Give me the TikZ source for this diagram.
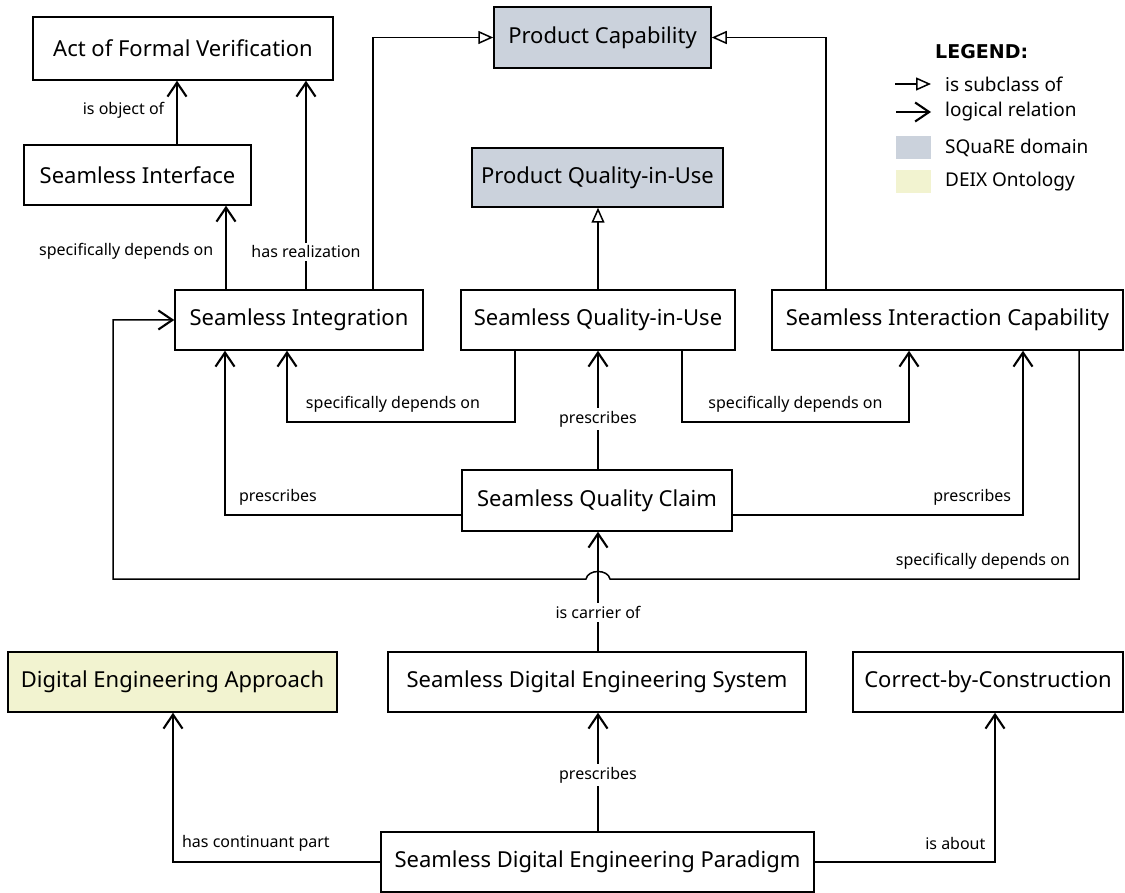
\documentclass[tikz,border=0pt]{standalone}
\usepackage{fontspec}
\setmainfont{Noto Sans}
\newfontfamily\legfont{DejaVu Sans}
\usetikzlibrary{arrows.meta}
\definecolor{squaregray}{RGB}{203,210,220}
\definecolor{deixyellow}{RGB}{242,243,208}
\newcommand\mkbox[7]{\node[box,fill=#7,minimum width={(#3-#2)*1pt},minimum height={(#5-#4)*1pt}] (#1) at ({(#2+#3)/2},{(#4+#5)/2}) {#6};}
\begin{document}
\begin{tikzpicture}[x=1pt,y=-1pt,
  box/.style={draw,line width=1.5pt,inner sep=0pt,font=\fontsize{22}{26}\selectfont},
  rel/.style={line width=1.5pt,-{Straight Barb[length=14pt,width=19pt,line width=2.1pt]}},
  sub/.style={line width=1.5pt,-{Triangle[open,length=15pt,width=13pt,line width=1.5pt,fill=white]}},
  lab/.style={font=\fontsize{16}{19}\selectfont,inner sep=2pt},
  labw/.style={lab,fill=white,inner sep=3pt},
  legtext/.style={font=\fontsize{19}{22}\selectfont,anchor=west,inner sep=0pt}]
\useasboundingbox (0,0) rectangle (1125,893);
% boxes
\mkbox{afv}{33}{333}{17}{80}{Act of Formal Verification}{white}
\mkbox{pc}{494}{711}{7}{68}{Product Capability}{squaregray}
\mkbox{si}{24}{251}{145}{205}{Seamless Interface}{white}
\mkbox{pqu}{472}{723}{148}{207}{Product Quality-in-Use}{squaregray}
\mkbox{sint}{175}{423}{290}{350}{Seamless Integration}{white}
\mkbox{squ}{461}{735}{290}{350}{Seamless Quality-in-Use}{white}
\mkbox{sic}{772}{1123}{290}{350}{Seamless Interaction Capability}{white}
\mkbox{sqc}{462}{732}{470}{531}{Seamless Quality Claim}{white}
\mkbox{dea}{8}{337}{652}{712}{Digital Engineering Approach}{deixyellow}
\mkbox{sdes}{388}{806}{652}{712}{Seamless Digital Engineering System}{white}
\mkbox{cbc}{853}{1123}{652}{712}{Correct-by-Construction}{white}
\mkbox{sdep}{381}{814}{832}{892}{Seamless Digital Engineering Paradigm}{white}
% helper coordinates
\coordinate (c177) at (177,0);
\coordinate (c226) at (226,0);
\coordinate (c306) at (306,0);
\coordinate (c373) at (373,0);
\coordinate (c826) at (826,0);
\coordinate (c598) at (598,0);
\coordinate (c515) at (515,0);
\coordinate (c287) at (287,0);
\coordinate (c682) at (682,0);
\coordinate (c909) at (909,0);
\coordinate (c225) at (225,0);
\coordinate (c1023) at (1023,0);
\coordinate (c1079) at (1079,0);
\coordinate (c610) at (610,0);
\coordinate (c113) at (113,0);
\coordinate (c173) at (173,0);
\coordinate (c995) at (995,0);
\coordinate (y422) at (0,422);
\coordinate (y515) at (0,515);
\coordinate (y579) at (0,579);
% connectors
\draw[rel] (si.north -| c177) -- (afv.south -| c177)
  node[lab,pos=0.54,anchor=east,xshift=-10pt] {is object of};
\draw[rel] (sint.north -| c226) -- (si.south -| c226)
  node[lab,pos=0.45,anchor=east,xshift=-10pt] {specifically depends on};
\draw[rel] (sint.north -| c306) -- (afv.south -| c306)
  node[labw,pos=0.18] {has realization};
\draw[sub] (sint.north -| c373) |- (pc.west);
\draw[sub] (sic.north -| c826) |- (pc.east);
\draw[sub] (squ.north -| c598) -- (pqu.south -| c598);
\draw[rel] (squ.south -| c515) -- (c515 |- y422) -- (c287 |- y422)
  node[lab,pos=0.535,yshift=18pt] {specifically depends on}
  -- (sint.south -| c287);
\draw[rel] (squ.south -| c682) -- (c682 |- y422) -- (c909 |- y422)
  node[lab,pos=0.5,yshift=18pt] {specifically depends on}
  -- (sic.south -| c909);
\draw[rel] (sqc.north -| c598) -- (squ.south -| c598)
  node[labw,pos=0.42] {prescribes};
\draw[rel] (sqc.west |- y515) -- (c225 |- y515)
  node[lab,pos=0.776,yshift=18pt] {prescribes}
  -- (sint.south -| c225);
\draw[rel] (sqc.east |- y515) -- (c1023 |- y515)
  node[lab,pos=0.825,yshift=18pt] {prescribes}
  -- (sic.south -| c1023);
\draw[rel] (sic.south -| c1079) -- (c1079 |- y579) -- (c610 |- y579)
  node[lab,pos=0.205,yshift=18pt] {specifically depends on}
  .. controls +(-2,-10) and +(2,-10) .. ++(-24,0)
  -- (c113 |- y579) -- (c113 |- sint.west) -- (sint.west);
\draw[rel] (sdes.north -| c598) -- (sqc.south -| c598)
  node[labw,pos=0.325] {is carrier of};
\draw[rel] (sdep.north -| c598) -- (sdes.south -| c598)
  node[labw,pos=0.475] {prescribes};
\draw[rel] (sdep.west) -- (c173 |- sdep.west)
  node[lab,pos=0.6,yshift=19pt] {has continuant part}
  -- (dea.south -| c173);
\draw[rel] (sdep.east) -- (c995 |- sdep.east)
  node[lab,pos=0.78,yshift=19pt] {is about}
  -- (cbc.south -| c995);
% legend
\node[font=\legfont\bfseries\fontsize{19}{22}\selectfont,anchor=west,inner sep=0pt] (leg) at (935,52) {LEGEND:};
\coordinate (l1a) at (895,84);
\coordinate (l1b) at (931,84);
\coordinate (l2a) at (896,112);
\coordinate (l2b) at (931,112);
\draw[sub] (l1a) -- (l1b);
\draw[rel] (l2a) -- (l2b);
\node[legtext] (t1) at (945,84) {is subclass of};
\node[legtext] (t2) at (945,112) {logical relation};
\node[fill=squaregray,minimum width=35pt,minimum height=23pt,inner sep=0pt] (k1) at (913.5,148) {};
\node[fill=deixyellow,minimum width=35pt,minimum height=23pt,inner sep=0pt] (k2) at (913.5,181.5) {};
\node[legtext] (t3) at (945,148) {SQuaRE domain};
\node[legtext] (t4) at (945,181.5) {DEIX Ontology};
\end{tikzpicture}
\end{document}
